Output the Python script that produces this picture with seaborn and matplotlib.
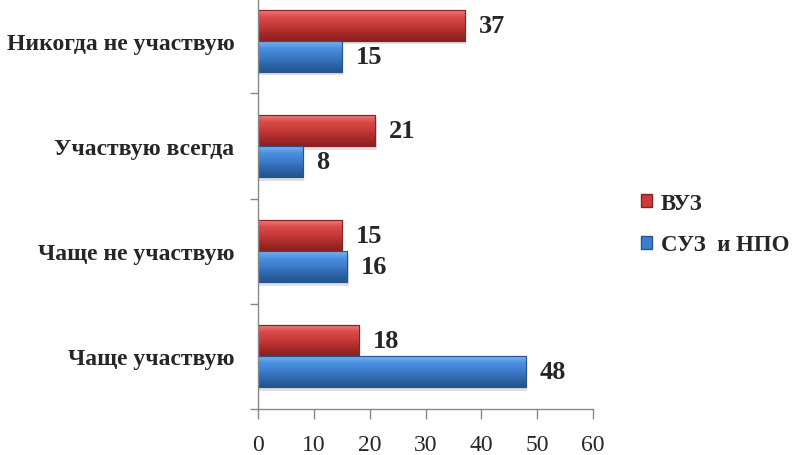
import matplotlib
matplotlib.use("Agg")
import matplotlib.pyplot as plt
import seaborn as sns
import pandas as pd
import numpy as np
from matplotlib.patches import Patch
from matplotlib.colors import LinearSegmentedColormap

categories = ["Никогда не участвую", "Участвую всегда", "Чаще не участвую", "Чаще участвую"]
vuz = [37, 21, 15, 18]
suz = [15, 8, 16, 48]
series = ["ВУЗ", "СУЗ  и НПО"]
xticks = [0, 10, 20, 30, 40, 50, 60]

df = pd.DataFrame({
    "cat": categories * 2,
    "val": vuz + suz,
    "grp": [series[0]] * 4 + [series[1]] * 4,
})

sns.set_style("white")
plt.rcParams["font.family"] = ["Liberation Serif", "DejaVu Serif"]

colors = {series[0]: "#CC3A3A", series[1]: "#3D7DCC"}
edges = {series[0]: "#8A2020", series[1]: "#24558F"}
gradients = {
    series[0]: ["#EC8080", "#D84A48", "#C83A38", "#A82A2A", "#8A2020"],
    series[1]: ["#80B8F0", "#4A90E0", "#3D7DCC", "#2E66AA", "#24558F"],
}

fig = plt.figure(figsize=(7.93, 4.56), dpi=100)
ax = fig.add_axes([258 / 793, 46 / 456, 335 / 793, 421 / 456])

sns.barplot(data=df, x="val", y="cat", hue="grp", order=categories,
            hue_order=series, palette=colors, orient="h", width=0.59,
            ax=ax, legend=False, saturation=1)

for container, s in zip(ax.containers, series):
    cmap = LinearSegmentedColormap.from_list(s, gradients[s])
    grad = np.linspace(0, 1, 64).reshape(-1, 1)
    for bar in container:
        w = bar.get_width()
        y0 = bar.get_y()
        h = bar.get_height()
        # shadow
        ax.add_patch(plt.Rectangle((0, y0 + h * 0.12), w + 0.25, h, facecolor="#000000",
                                   alpha=0.12, zorder=bar.get_zorder() - 0.5, linewidth=0))
        im = ax.imshow(grad, cmap=cmap, aspect="auto", extent=(0, w, y0 + h, y0),
                       zorder=bar.get_zorder() + 0.1, interpolation="bilinear")
        im.set_clip_path(bar)
        bar.set_edgecolor(edges[s])
        bar.set_linewidth(0.8)
        ax.add_patch(plt.Rectangle((0, y0), w, h, facecolor="none", edgecolor=edges[s],
                                   linewidth=0.8, zorder=bar.get_zorder() + 0.2))
        ax.annotate(f"{int(w)}", (w, y0 + h / 2), xytext=(10, 0), textcoords="offset points",
                    ha="left", va="center", fontsize=19, fontweight="bold")

ax.set_xlim(0, 60)
ax.set_ylim(3.5, -0.5)
ax.set_xticks(xticks)
ax.set_xticklabels([str(t) for t in xticks], fontsize=17)
ax.set_yticks(range(len(categories)))
ax.set_yticklabels(categories, fontsize=17, fontweight="bold")
ax.set_yticks([-0.5, 0.5, 1.5, 2.5, 3.5], minor=True)
ax.tick_params(axis="y", which="major", left=False, length=0, pad=17)
ax.tick_params(axis="y", which="minor", left=True, length=6, color="#888888", width=1)
ax.tick_params(axis="x", which="major", bottom=True, length=7, color="#888888", width=1,
               pad=11, direction="out")
ax.set_xlabel("")
ax.set_ylabel("")
for side in ["top", "right"]:
    ax.spines[side].set_visible(False)
for side in ["left", "bottom"]:
    ax.spines[side].set_color("#888888")
    ax.spines[side].set_linewidth(1)

handles = [Patch(facecolor=colors[s], edgecolor=edges[s], label=s) for s in series]
fig.legend(handles=handles, loc="center left", bbox_to_anchor=(641 / 793, 1 - 225 / 456),
           frameon=False, prop={"size": 16.5, "weight": "bold"}, handlelength=0.48,
           handleheight=0.48, handletextpad=0.4, labelspacing=0.9,
           borderpad=0, borderaxespad=0)

fig.savefig("out.png", dpi=100)
